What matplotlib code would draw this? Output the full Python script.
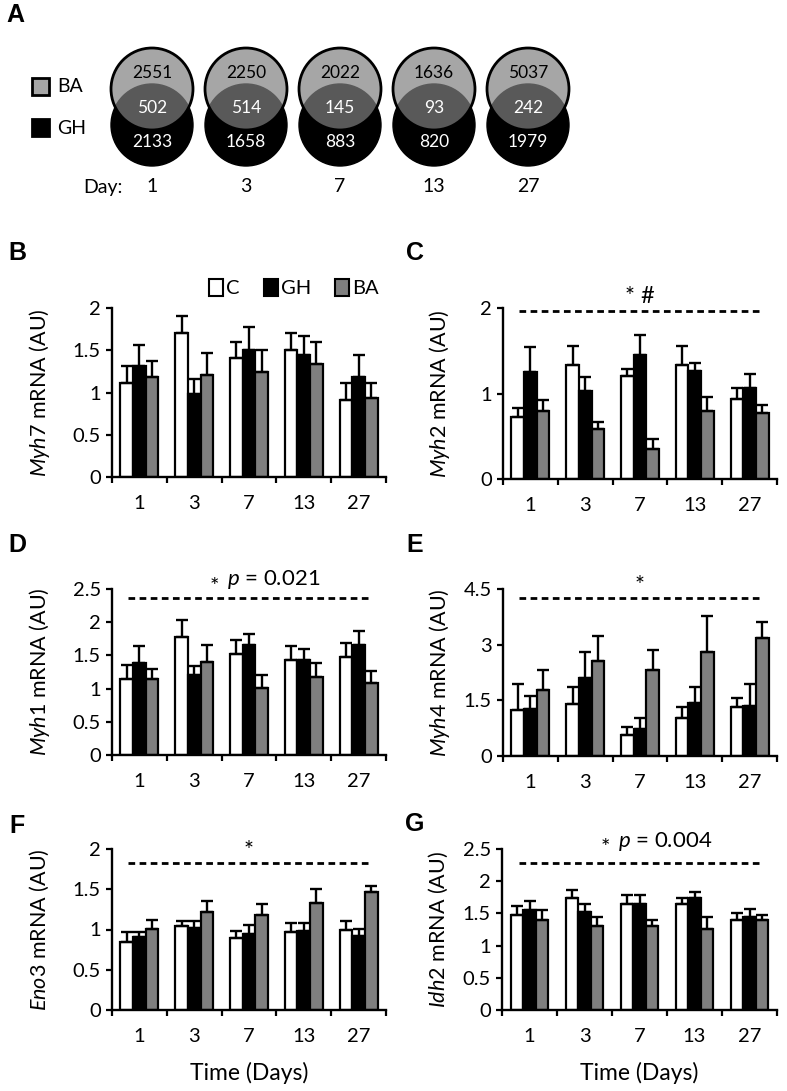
import numpy as np
import matplotlib
matplotlib.use('Agg')
import matplotlib.pyplot as plt
from matplotlib.patches import Circle, Patch, Rectangle

plt.rcParams['font.family'] = ['Lato', 'DejaVu Sans']
plt.rcParams['mathtext.fontset'] = 'custom'
plt.rcParams['mathtext.rm'] = 'Lato'
plt.rcParams['mathtext.it'] = 'Lato:italic'

# ---- data ----
days = ['1', '3', '7', '13', '27']
groups = ['C', 'GH', 'BA']

venn_ba = [2551, 2250, 2022, 1636, 5037]
venn_both = [502, 514, 145, 93, 242]
venn_gh = [2133, 1658, 883, 820, 1979]

myh7_c = [1.11, 1.70, 1.41, 1.50, 0.91]
myh7_gh = [1.31, 0.98, 1.50, 1.44, 1.18]
myh7_ba = [1.18, 1.21, 1.24, 1.34, 0.94]
myh7_c_err = [0.20, 0.20, 0.19, 0.20, 0.20]
myh7_gh_err = [0.25, 0.18, 0.27, 0.23, 0.26]
myh7_ba_err = [0.19, 0.26, 0.26, 0.26, 0.17]

myh2_c = [0.73, 1.33, 1.20, 1.33, 0.93]
myh2_gh = [1.25, 1.03, 1.45, 1.26, 1.06]
myh2_ba = [0.80, 0.58, 0.35, 0.80, 0.77]
myh2_c_err = [0.10, 0.22, 0.09, 0.22, 0.13]
myh2_gh_err = [0.29, 0.16, 0.23, 0.10, 0.17]
myh2_ba_err = [0.12, 0.09, 0.12, 0.16, 0.09]

myh1_c = [1.14, 1.78, 1.52, 1.43, 1.47]
myh1_gh = [1.39, 1.20, 1.65, 1.43, 1.65]
myh1_ba = [1.14, 1.40, 1.01, 1.18, 1.09]
myh1_c_err = [0.21, 0.26, 0.21, 0.21, 0.22]
myh1_gh_err = [0.25, 0.14, 0.17, 0.17, 0.21]
myh1_ba_err = [0.16, 0.25, 0.20, 0.20, 0.17]

myh4_c = [1.25, 1.40, 0.57, 1.02, 1.33]
myh4_gh = [1.27, 2.10, 0.73, 1.42, 1.34]
myh4_ba = [1.78, 2.56, 2.33, 2.79, 3.17]
myh4_c_err = [0.69, 0.45, 0.21, 0.31, 0.22]
myh4_gh_err = [0.36, 0.69, 0.29, 0.44, 0.60]
myh4_ba_err = [0.53, 0.67, 0.52, 0.99, 0.44]

eno3_c = [0.84, 1.04, 0.90, 0.97, 1.00]
eno3_gh = [0.91, 1.02, 0.95, 0.98, 0.92]
eno3_ba = [1.01, 1.22, 1.18, 1.33, 1.46]
eno3_c_err = [0.13, 0.07, 0.08, 0.11, 0.11]
eno3_gh_err = [0.06, 0.09, 0.10, 0.10, 0.09]
eno3_ba_err = [0.11, 0.14, 0.14, 0.17, 0.08]

idh2_c = [1.48, 1.74, 1.65, 1.65, 1.39]
idh2_gh = [1.56, 1.52, 1.65, 1.74, 1.44]
idh2_ba = [1.39, 1.31, 1.31, 1.26, 1.39]
idh2_c_err = [0.13, 0.13, 0.13, 0.09, 0.12]
idh2_gh_err = [0.14, 0.13, 0.13, 0.09, 0.13]
idh2_ba_err = [0.17, 0.13, 0.08, 0.18, 0.09]

colors = ['white', 'black', '#7f7f7f']

W, H = 787, 1091
fig = plt.figure(figsize=(W / 100, H / 100), dpi=100)

# full-figure axes in pixel units for panel A and the letters
bg = fig.add_axes([0, 0, 1, 1])
bg.set_xlim(0, W)
bg.set_ylim(H, 0)
bg.axis('off')

def rect(x0, x1, y0, y1):
    return [x0 / W, 1 - y1 / H, (x1 - x0) / W, (y1 - y0) / H]

# ---- panel A: venn diagrams ----
r = 41
for i in range(len(days)):
    cx = 152 + 94 * i
    bg.add_patch(Circle((cx, 125), r, facecolor='black', edgecolor='black', lw=1))
    bg.add_patch(Circle((cx, 89), r, facecolor='#808080', alpha=0.7, edgecolor='none'))
    bg.add_patch(Circle((cx, 89), r, facecolor='none', edgecolor='black', lw=2))
    bg.text(cx, 73, str(venn_ba[i]), ha='center', va='center', fontsize=12.5, color='black')
    bg.text(cx, 108, str(venn_both[i]), ha='center', va='center', fontsize=12.5, color='white')
    bg.text(cx, 142, str(venn_gh[i]), ha='center', va='center', fontsize=12.5, color='white')
    bg.text(cx, 187, days[i], ha='center', va='center', fontsize=14)
bg.text(103, 187, 'Day:', ha='center', va='center', fontsize=14)
bg.add_patch(Rectangle((32, 78), 17, 17, facecolor='#a6a6a6', edgecolor='black', lw=2))
bg.add_patch(Rectangle((32, 119), 17, 17, facecolor='black', edgecolor='black', lw=2))
bg.text(57, 87, 'BA', ha='left', va='center', fontsize=14)
bg.text(57, 128, 'GH', ha='left', va='center', fontsize=14)

letters = [('A', 15, 15), ('B', 17, 253), ('C', 415, 253), ('D', 17, 545),
           ('E', 415, 545), ('F', 17, 826), ('G', 415, 824)]
for lab, x, y in letters:
    bg.text(x, y, lab, ha='center', va='center', fontsize=18, fontweight='bold',
            family='Liberation Sans')

# ---- bar panels ----
def bar_panel(box, means, errs, gene, ylim, yticks, ytl, dash_y, label_x,
              star=None, pval=None, star_y=None, xlabel=False):
    ax = fig.add_axes(rect(*box))
    x = np.arange(len(days))
    w = 0.23
    for k in range(3):
        pos = x + (k - 1) * w
        ax.bar(pos, means[k], w, color=colors[k], edgecolor='black', lw=1.6, zorder=2)
        ax.errorbar(pos, means[k], yerr=[np.zeros(len(days)), errs[k]], fmt='none',
                    ecolor='black', elinewidth=1.7, capsize=4.4, capthick=1.7, zorder=3)
    ax.set_xlim(-0.5, len(days) - 0.5)
    ax.set_ylim(*ylim)
    ax.set_yticks(yticks)
    ax.set_yticklabels(ytl, fontsize=14.5)
    ax.set_xticks(np.arange(len(days) + 1) - 0.5)
    ax.set_xticklabels([])
    ax.set_xticks(x, minor=True)
    ax.set_xticklabels(days, minor=True, fontsize=14.5)
    ax.tick_params(axis='x', which='minor', length=0, pad=13)
    ax.tick_params(axis='both', which='major', length=4, width=1.6, direction='out')
    ax.tick_params(axis='y', pad=4)
    for s in ['top', 'right']:
        ax.spines[s].set_visible(False)
    for s in ['left', 'bottom']:
        ax.spines[s].set_linewidth(1.7)
    ax.patch.set_alpha(0)
    ax.text(label_x, 0.5, r'$\mathit{' + gene + '}$ mRNA (AU)', transform=ax.transAxes,
            rotation=90, ha='center', va='center', fontsize=15.5)
    if dash_y is not None:
        ax.axhline(dash_y, xmin=0.06, xmax=0.95, color='black', lw=2.0,
                   linestyle=(0, (2.4, 1.6)), zorder=1)
    if star is not None and pval is None:
        ax.text(0.5, star_y, star, transform=ax.transAxes, ha='center',
                va='center', fontsize=17)
    if pval is not None:
        ax.text(0.375, star_y - 0.04, '*', transform=ax.transAxes, ha='center',
                va='center', fontsize=16)
        ax.text(0.42, star_y, r'$\mathit{p}$ = ' + pval, transform=ax.transAxes,
                ha='left', va='center', fontsize=16)
    if xlabel:
        ax.text(0.5, -0.39, 'Time (Days)', transform=ax.transAxes, ha='center',
                va='center', fontsize=16.5)
    return ax

axB = bar_panel((112, 386, 308, 477),
                [myh7_c, myh7_gh, myh7_ba], [myh7_c_err, myh7_gh_err, myh7_ba_err],
                'Myh7', (0, 2), [0, 0.5, 1, 1.5, 2], ['0', '0.5', '1', '1.5', '2'],
                None, -0.265)
handles = [Patch(facecolor=c, edgecolor='black', lw=1.5) for c in colors]
fig.legend(handles, groups, loc='center', bbox_to_anchor=(294 / W, 1 - 288 / H), ncol=3,
           frameon=False, fontsize=14.5, handlelength=0.7, handleheight=0.9,
           handletextpad=0.15, columnspacing=1.2)

bar_panel((503, 777, 308, 479),
          [myh2_c, myh2_gh, myh2_ba], [myh2_c_err, myh2_gh_err, myh2_ba_err],
          'Myh2', (0, 2), [0, 1, 2], ['0', '1', '2'],
          1.97, -0.23, star='* #', star_y=1.07)

bar_panel((112, 386, 589, 755),
          [myh1_c, myh1_gh, myh1_ba], [myh1_c_err, myh1_gh_err, myh1_ba_err],
          'Myh1', (0, 2.5), [0, 0.5, 1, 1.5, 2, 2.5], ['0', '0.5', '1', '1.5', '2', '2.5'],
          2.36, -0.265, pval='0.021', star_y=1.055)

bar_panel((503, 777, 589, 756),
          [myh4_c, myh4_gh, myh4_ba], [myh4_c_err, myh4_gh_err, myh4_ba_err],
          'Myh4', (0, 4.5), [0, 1.5, 3, 4.5], ['0', '1.5', '3', '4.5'],
          4.25, -0.23, star='*', star_y=1.02)

bar_panel((112, 386, 849, 1010),
          [eno3_c, eno3_gh, eno3_ba], [eno3_c_err, eno3_gh_err, eno3_ba_err],
          'Eno3', (0, 2), [0, 0.5, 1, 1.5, 2], ['0', '0.5', '1', '1.5', '2'],
          1.83, -0.265, star='*', star_y=0.99, xlabel=True)

bar_panel((502, 777, 849, 1010),
          [idh2_c, idh2_gh, idh2_ba], [idh2_c_err, idh2_gh_err, idh2_ba_err],
          'Idh2', (0, 2.5), [0, 0.5, 1, 1.5, 2, 2.5], ['0', '0.5', '1', '1.5', '2', '2.5'],
          2.29, -0.23, pval='0.004', star_y=1.045, xlabel=True)

fig.savefig('out.png', dpi=100)
